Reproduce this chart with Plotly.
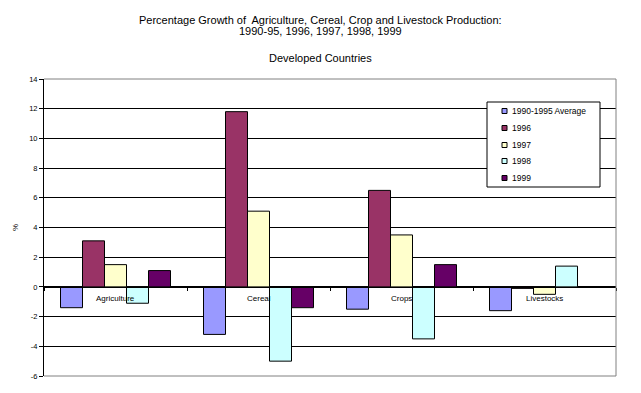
import plotly.graph_objects as go

categories = ["Agriculture", "Cereal", "Crops", "Livestocks"]
series_names = ["1990-1995 Average", "1996", "1997", "1998", "1999"]
avg_1990_95 = [-1.4, -3.2, -1.5, -1.6]
y1996 = [3.1, 11.8, 6.5, -0.1]
y1997 = [1.5, 5.1, 3.5, -0.5]
y1998 = [-1.1, -5.0, -3.5, 1.4]
y1999 = [1.1, -1.4, 1.5, None]
series_values = [avg_1990_95, y1996, y1997, y1998, y1999]
colors = ["#9999FF", "#993366", "#FFFFCC", "#CCFFFF", "#660066"]
ytick_vals = [-6, -4, -2, 0, 2, 4, 6, 8, 10, 12, 14]
ytick_text = ["-6", "-4", "-2", "0", "2", "4", "6", "8", "10", "12", "14"]
title_lines = [
    "Percentage Growth of  Agriculture, Cereal, Crop and Livestock Production:",
    "1990-95, 1996, 1997, 1998, 1999",
    "Developed Countries",
]

FONT = "Liberation Sans, Arial, sans-serif"
OFF = 8                      # default page body margin
W, H = 641 - 2 * OFF, 393 - 2 * OFF
# plot area in window pixels: x 44..616, y 79..376
PX0, PX1, PY0, PY1 = 44, 616, 79, 376
ML, MR = PX0 - OFF, W - (PX1 - OFF)
MT, MB = PY0 - OFF, H - (PY1 - OFF)
ymin, ymax = -6, 14
plot_w = PX1 - PX0
plot_h = PY1 - PY0


def xpaper(px):
    return (px - PX0) / plot_w


def ypaper(py):
    return (PY1 - py) / plot_h


fig = go.Figure()
for name, vals, col in zip(series_names, series_values, colors):
    fig.add_trace(go.Bar(
        x=categories, y=vals, name=name, showlegend=False,
        marker=dict(color=col, line=dict(color="black", width=1)),
    ))

annotations = []
for txt, ypx in zip(title_lines, [20, 31, 58]):
    annotations.append(dict(text=txt, x=xpaper(320.5), xref="paper", xanchor="center",
                            y=ypaper(ypx), yref="paper", yanchor="middle",
                            showarrow=False, font=dict(family=FONT, size=11, color="black")))

for c in categories:
    annotations.append(dict(text=c, x=c, xref="x", y=0, yref="y", yanchor="top",
                            yshift=-5, showarrow=False,
                            font=dict(family=FONT, size=8, color="black")))

shapes = [
    dict(type="line", xref="x domain", yref="y domain", x0=0, x1=1, y0=1, y1=1,
         line=dict(color="#808080", width=1), layer="above"),
    dict(type="line", xref="x domain", yref="y domain", x0=0, x1=1, y0=0, y1=0,
         line=dict(color="#808080", width=1), layer="above"),
    dict(type="line", xref="x domain", yref="y domain", x0=1, x1=1, y0=0, y1=1,
         line=dict(color="#808080", width=1), layer="above"),
]

# legend box (drawn like the original)
LX0, LX1, LY0, LY1 = 487, 600, 102, 187
shapes.append(dict(type="rect", xref="paper", yref="paper",
                   x0=xpaper(LX0), x1=xpaper(LX1), y0=ypaper(LY1), y1=ypaper(LY0),
                   fillcolor="white", line=dict(color="black", width=1), layer="above"))
row_y = [111, 128, 145, 161, 178]
for name, col, ry in zip(series_names, colors, row_y):
    shapes.append(dict(type="rect", xref="paper", yref="paper",
                       x0=xpaper(502), x1=xpaper(507), y0=ypaper(ry + 2.5), y1=ypaper(ry - 2.5),
                       fillcolor=col, line=dict(color="black", width=1), layer="above"))
    annotations.append(dict(text=name, x=xpaper(510), xref="paper", xanchor="left",
                            y=ypaper(ry), yref="paper", yanchor="middle", showarrow=False,
                            font=dict(family=FONT, size=8.5, color="black")))

fig.update_layout(
    width=W, height=H,
    margin=dict(l=ML, r=MR, t=MT, b=MB, autoexpand=False),
    paper_bgcolor="white", plot_bgcolor="white",
    font=dict(family=FONT, size=8, color="black"),
    barmode="group", bargap=0.2308, bargroupgap=0,
    showlegend=False,
    annotations=annotations, shapes=shapes,
    xaxis=dict(anchor="free", position=(0 - ymin) / (ymax - ymin),
               showline=True, linecolor="black", linewidth=1,
               ticks="outside", tickson="boundaries", ticklen=3, tickcolor="black",
               showticklabels=False, showgrid=False, zeroline=False),
    yaxis=dict(range=[ymin, ymax], tickvals=ytick_vals, ticktext=ytick_text,
               showline=True, linecolor="black", linewidth=1,
               ticks="outside", ticklen=4, tickcolor="black",
               showgrid=True, gridcolor="black", gridwidth=1,
               zeroline=True, zerolinecolor="black", zerolinewidth=1,
               tickfont=dict(family=FONT, size=7.5, color="black"),
               title=dict(text="%", standoff=9, font=dict(family=FONT, size=8, color="black"))),
)

fig.write_html("out.html")
